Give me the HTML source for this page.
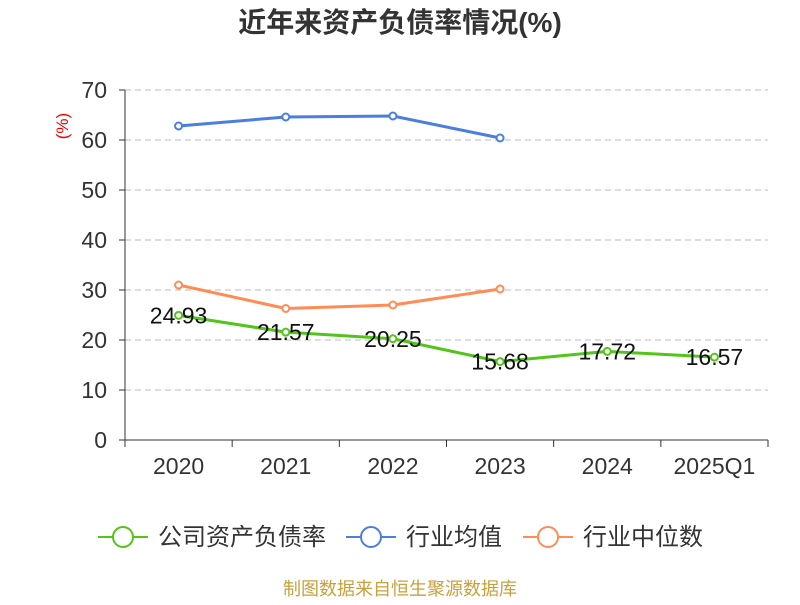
<!DOCTYPE html>
<html><head><meta charset="utf-8">
<style>
body{margin:0;background:#fff;font-family:"Liberation Sans","Noto Sans CJK SC",sans-serif;}
svg text{font-family:"Liberation Sans","Noto Sans CJK SC",sans-serif;}
</style></head>
<body>
<svg width="800" height="600" viewBox="0 0 800 600" id="c">
<text x="400" y="32" text-anchor="middle" font-size="28" font-weight="bold" fill="#333">近年来资产负债率情况(%)</text>
<text x="68" y="126" font-size="17" fill="#e00" transform="rotate(-90 68 126)" text-anchor="middle">(%)</text>
<g id="grid"></g><g id="axes"></g><g id="series"></g>
<g>
<g><line x1="98" y1="537" x2="148" y2="537" stroke="#52c41a" stroke-width="2"/><circle cx="123" cy="537" r="10" fill="#fff" stroke="#52c41a" stroke-width="2"/><text x="158" y="545" font-size="24" fill="#333">公司资产负债率</text></g>
<g><line x1="346" y1="537" x2="396" y2="537" stroke="#4a7ee0" stroke-width="2"/><circle cx="371" cy="537" r="10" fill="#fff" stroke="#4a7ee0" stroke-width="2"/><text x="406" y="545" font-size="24" fill="#333">行业均值</text></g>
<g><line x1="523" y1="537" x2="573" y2="537" stroke="#ff8c55" stroke-width="2"/><circle cx="548" cy="537" r="10" fill="#fff" stroke="#ff8c55" stroke-width="2"/><text x="583" y="545" font-size="24" fill="#333">行业中位数</text></g>
</g>
<text x="400" y="595" text-anchor="middle" font-size="18" fill="#c9a03c">制图数据来自恒生聚源数据库</text>
</svg>
<script>
const categories=["2020","2021","2022","2023","2024","2025Q1"];
const debtRatio=[24.93,21.57,20.25,15.68,17.72,16.57];
const industryAvg=[62.8,64.6,64.8,60.4];
const industryMedian=[31.0,26.3,27.0,30.2];
const yTicks=[0,10,20,30,40,50,60,70];
const NS="http://www.w3.org/2000/svg";
const x0=125,x1=768,yBase=440,yTop=90,yMax=70;
const bw=(x1-x0)/categories.length;
const X=i=>x0+bw*(i+0.5);
const Y=v=>yBase-(v/yMax)*(yBase-yTop);
function mk(tag,attrs,parent){const e=document.createElementNS(NS,tag);for(const k in attrs)e.setAttribute(k,attrs[k]);parent.appendChild(e);return e;}
const grid=document.getElementById('grid'),axes=document.getElementById('axes'),ser=document.getElementById('series');
yTicks.forEach(t=>{
  if(t>0){const l=mk('line',{x1:x0,x2:x1,y1:Y(t),y2:Y(t),stroke:'#bbb','stroke-dasharray':'6,4'},grid);
  
  }
  const tk=mk('line',{x1:x0-6,x2:x0,y1:Y(t),y2:Y(t),stroke:'#333'},axes);
  
  
  const tx=mk('text',{x:x0-18,y:Y(t)+8,'text-anchor':'end','font-size':'23',fill:'#333'},axes);tx.textContent=t;
  
  
});
const ya=mk('line',{x1:x0,x2:x0,y1:yTop,y2:yBase,stroke:'#333'},axes);


const xa=mk('line',{x1:x0,x2:x1,y1:yBase,y2:yBase,stroke:'#333'},axes);


for(let i=0;i<=categories.length;i++){const t=mk('line',{x1:x0+bw*i,x2:x0+bw*i,y1:yBase,y2:yBase+7,stroke:'#333'},axes);

}
categories.forEach((c,i)=>{const t=mk('text',{x:X(i),y:474,'text-anchor':'middle','font-size':'23',fill:'#333'},axes);t.textContent=c;

});
function series(vals,color,name,labels){
  const g=mk('g',{},ser);
  
  
  const p=mk('polyline',{points:vals.map((v,i)=>X(i)+','+Y(v)).join(' '),fill:'none',stroke:color,'stroke-width':3},g);
  
  
  vals.forEach((v,i)=>{const c=mk('circle',{cx:X(i),cy:Y(v),r:3.5,fill:'#fff',stroke:color,'stroke-width':2},g);
    
    
    if(labels){const t=mk('text',{x:X(i),y:Y(v)+8,'text-anchor':'middle','font-size':'23',fill:'#111'},g);t.textContent=v.toFixed(2);
    
    }
  });
}
series(industryAvg,'#4a7ee0','industry-avg-series',false);
series(industryMedian,'#ff8c55','industry-median-series',false);
series(debtRatio,'#52c41a','debt-ratio-series',true);
</script>
</body></html>
